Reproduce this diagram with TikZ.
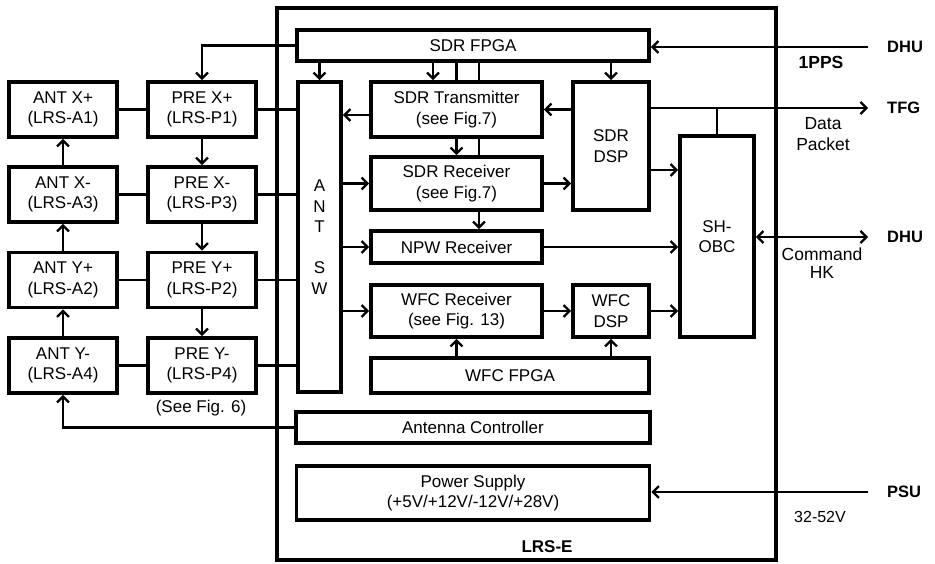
\documentclass[tikz,border=0pt]{standalone}
\usepackage{fontspec}
\setmainfont{Liberation Sans}
\usetikzlibrary{arrows.meta}

\tikzset{
  blk/.style={draw, line width=3.6pt, inner sep=0pt, align=center,
              font=\fontsize{17}{20.5}\selectfont},
  link/.style={line width=2.3pt},
  arr/.style={link, -{Straight Barb[length=6pt,width=12pt,line width=2.3pt]}},
  biarr/.style={link, {Straight Barb[length=6pt,width=12pt,line width=2.3pt]}-{Straight Barb[length=6pt,width=12pt,line width=2.3pt]}},
  ext/.style={anchor=west, inner xsep=19pt, inner ysep=0pt, font=\fontsize{16.5}{20}\selectfont\bfseries},
  note/.style={inner sep=0pt, align=center, font=\fontsize{16}{20}\selectfont}
}

\begin{document}
\begin{tikzpicture}[x=1pt,y=-1pt]
  \useasboundingbox (0,0) rectangle (935,563);

  % LRS-E enclosure
  \node[blk, minimum width=499pt, minimum height=552pt] (lrse) at (526.5,284) {};
  \node[note, font=\fontsize{17}{20}\selectfont\bfseries] (lrselbl) at (547,547) {LRS-E};

  % antennas and preamplifiers
  \node[blk, minimum width=108pt, minimum height=55pt] (antxp) at (63,109.5) {ANT X+\\(LRS-A1)};
  \node[blk, minimum width=108pt, minimum height=55pt] (antxm) at (63,194.5) {ANT X-\\(LRS-A3)};
  \node[blk, minimum width=108pt, minimum height=55pt] (antyp) at (63,280) {ANT Y+\\(LRS-A2)};
  \node[blk, minimum width=108pt, minimum height=55pt] (antym) at (63,365.5) {ANT Y-\\(LRS-A4)};
  \node[blk, minimum width=108pt, minimum height=55pt] (prexp) at (202,109.5) {PRE X+\\(LRS-P1)};
  \node[blk, minimum width=108pt, minimum height=55pt] (prexm) at (202,194.5) {PRE X-\\(LRS-P3)};
  \node[blk, minimum width=108pt, minimum height=55pt] (preyp) at (202,280) {PRE Y+\\(LRS-P2)};
  \node[blk, minimum width=108pt, minimum height=55pt] (preym) at (202,365.5) {PRE Y-\\(LRS-P4)};
  \node[note, font=\fontsize{17}{20}\selectfont] (seefig) at (201,408) {(See Fig. 6)};

  % electronics
  \node[blk, minimum width=352pt, minimum height=31pt] (sdrfpga) at (473,45.5) {SDR FPGA};
  \node[blk, minimum width=43pt, minimum height=310pt] (antsw) at (319.5,237) {A\\N\\T\\\mbox{}\\S\\W};
  \node[blk, minimum width=171pt, minimum height=55pt] (sdrtx) at (456.5,109.5) {SDR Transmitter\\(see Fig.7)};
  \node[blk, minimum width=171pt, minimum height=53pt] (sdrrx) at (456.5,183.5) {SDR Receiver\\(see Fig.7)};
  \node[blk, minimum width=76pt, minimum height=128pt] (sdrdsp) at (611,146) {SDR\\DSP};
  \node[blk, minimum width=171pt, minimum height=32pt] (npwrx) at (456.5,247) {NPW Receiver};
  \node[blk, minimum width=171pt, minimum height=52pt] (wfcrx) at (456.5,311) {WFC Receiver\\(see Fig. 13)};
  \node[blk, minimum width=76pt, minimum height=52pt] (wfcdsp) at (611,311) {WFC\\DSP};
  \node[blk, minimum width=278pt, minimum height=35pt] (wfcfpga) at (510,375.5) {WFC FPGA};
  \node[blk, minimum width=74pt, minimum height=201pt] (shobc) at (717,236.5) {SH-\\OBC};
  \node[blk, minimum width=354pt, minimum height=31pt] (antctrl) at (473,427.5) {Antenna Controller};
  \node[blk, minimum width=353pt, minimum height=54pt] (pwr) at (473,493) {Power Supply\\(+5V/+12V/-12V/+28V)};

  % external units
  \node[ext] (dhua) at (868,47) {DHU};
  \node[ext] (tfg) at (868,108) {TFG};
  \node[ext] (dhub) at (868,237) {DHU};
  \node[ext] (psu) at (868,492) {PSU};
  \node[note, font=\fontsize{17.5}{18}\selectfont\bfseries] (ppslbl) at (821,62) {1PPS};
  \node[note, font=\fontsize{17.5}{21}\selectfont] (pktlbl) at (823,134) {Data\\Packet};
  \node[note, font=\fontsize{17.5}{18.5}\selectfont] (cmdlbl) at (822,263) {Command\\HK};
  \node[note] (vlbl) at (820,517) {32-52V};

  % antenna chain
  \foreach \a/\p in {antxp/prexp, antxm/prexm, antyp/preyp, antym/preym}{
    \draw[link] (\a.east) -- (\p.west);
    \draw[link] (\p.east) -- (\p.east -| antsw.west);
  }
  \draw[arr] (antxm) -- (antxp);
  \draw[arr] (antyp) -- (antxm);
  \draw[arr] (antym) -- (antyp);
  \draw[arr] (prexp) -- (prexm);
  \draw[arr] (prexm) -- (preyp);
  \draw[arr] (preyp) -- (preym);
  \draw[arr] (sdrfpga.west) -| (prexp.north);
  \draw[arr] (antctrl.west) -| (antym.south);

  % SDR chain
  \draw[arr] (antsw.north |- sdrfpga.south) -- (antsw.north);
  \draw[arr] ([xshift=-23.5pt]sdrtx.north |- sdrfpga.south) -- ([xshift=-23.5pt]sdrtx.north);
  \draw[link] (sdrtx.north |- sdrfpga.south) -- (sdrtx.north);
  \draw[link] ([xshift=22.5pt]sdrtx.north |- sdrfpga.south) -- ([xshift=22.5pt]sdrtx.north);
  \draw[arr] (sdrdsp.north |- sdrfpga.south) -- (sdrdsp.north);
  \draw[arr] (sdrtx) -- (sdrrx);
  \draw[link] ([xshift=22.5pt]sdrtx.south) -- ([xshift=22.5pt]sdrrx.north);
  \draw[arr] ([xshift=22.5pt]sdrrx.south) -- ([xshift=22.5pt]npwrx.north);
  \draw[arr] (sdrdsp.west |- sdrtx) -- (sdrtx.east);
  \draw[arr] ([yshift=-5.5pt]sdrtx.west) -- ([yshift=-5.5pt]sdrtx.west -| antsw.east);
  \draw[arr] (antsw.east |- sdrrx) -- (sdrrx.west);
  \draw[arr] (sdrrx.east) -- (sdrrx.east -| sdrdsp.west);
  \draw[arr] ([yshift=-24pt]sdrdsp.east) -- ([yshift=-24pt]sdrdsp.east -| shobc.west);

  % NPW and WFC chain
  \draw[arr] (antsw.east |- npwrx) -- (npwrx.west);
  \draw[arr] (npwrx.east) -- (npwrx.east -| shobc.west);
  \draw[arr] (antsw.east |- wfcrx) -- (wfcrx.west);
  \draw[arr] (wfcrx) -- (wfcdsp);
  \draw[arr] (wfcdsp.east) -- (wfcdsp.east -| shobc.west);
  \draw[arr] (wfcrx.south |- wfcfpga.north) -- (wfcrx.south);
  \draw[arr] (wfcdsp.south |- wfcfpga.north) -- (wfcdsp.south);

  % external links
  \draw[arr] (dhua.west) -- (dhua.west -| sdrfpga.east);
  \draw[arr] (sdrdsp.east |- tfg) -- (tfg.west);
  \draw[link] (shobc.north) -- (shobc.north |- tfg);
  \draw[biarr] (shobc.east |- dhub) -- (dhub.west);
  \draw[arr] (psu.west) -- (psu.west -| pwr.east);
\end{tikzpicture}
\end{document}
